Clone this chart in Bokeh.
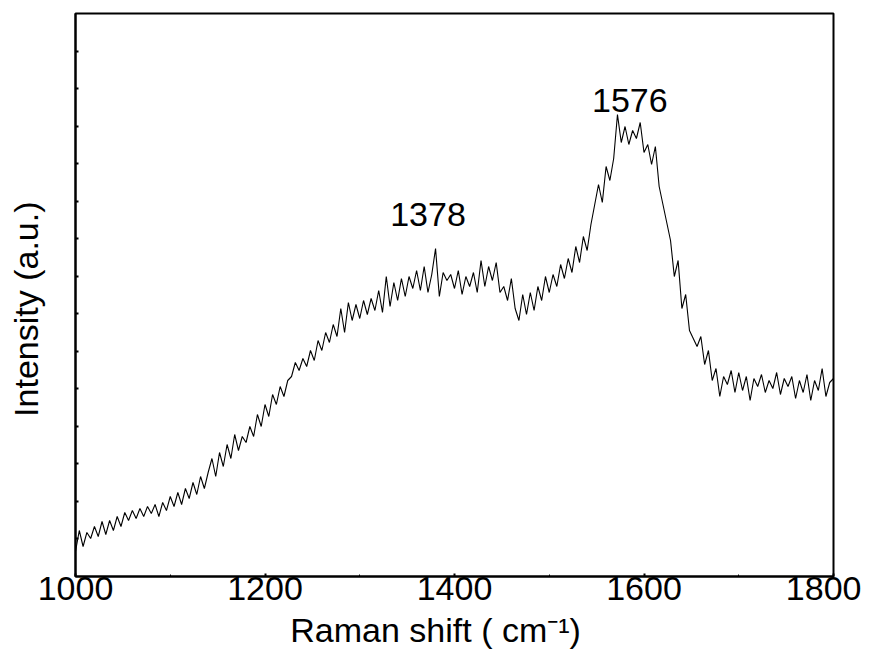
from bokeh.plotting import figure
from bokeh.models import Range1d, FixedTicker, SingleIntervalTicker, CustomJSTickFormatter, ColumnDataSource
from bokeh.core.properties import value
from bokeh.embed import file_html
from bokeh.resources import INLINE

# Raman shift sampling (cm^-1): 1000..1800, every 4 cm^-1
shift_start = 1000
shift_step = 4

# Intensity (a.u.), in order of increasing shift
intensity = [
    25, 46, 30, 44, 38, 50, 40, 55, 42, 56,
    46, 60, 50, 64, 56, 66, 58, 68, 60, 70,
    63, 72, 60, 74, 66, 80, 70, 84, 72, 88,
    78, 94, 82, 100, 88, 104, 118, 100, 124, 110,
    132, 118, 142, 126, 140, 134, 150, 140, 162, 150,
    172, 160, 182, 172, 190, 180, 196, 200, 214, 206,
    218, 210, 226, 216, 236, 226, 244, 234, 252, 240,
    268, 244, 274, 256, 272, 258, 276, 262, 278, 266,
    286, 264, 300, 270, 294, 276, 298, 280, 300, 288,
    306, 286, 310, 284, 302, 328, 280, 304, 296, 302,
    288, 306, 282, 300, 290, 304, 284, 316, 290, 310,
    296, 314, 284, 290, 276, 298, 268, 256, 282, 262,
    284, 266, 290, 276, 300, 284, 302, 290, 312, 298,
    318, 304, 330, 314, 340, 326, 352, 372, 392, 374,
    410, 396, 418, 462, 434, 450, 432, 446, 438, 454,
    424, 432, 412, 430, 390, 372, 354, 336, 300, 316,
    268, 282, 246, 238, 230, 240, 212, 226, 196, 208,
    180, 200, 192, 206, 184, 204, 186, 200, 176, 198,
    190, 202, 184, 196, 188, 204, 182, 198, 190, 200,
    178, 196, 184, 202, 176, 196, 186, 208, 180, 194,
    198,
]
shift = [shift_start + shift_step * i for i in range(len(intensity))]

# Peak annotations
peak_labels = ["1378", "1576"]
peak_x = [1372, 1585]
peak_y = [362, 476]

x_min, x_max = 1000, 1800
y_min, y_max = 0, 563
x_major = 200
n_y_ticks = 15

FONT = "Liberation Sans"
FS = "34px"
NB = "\u00a0"

p = figure(width=861, height=652, output_backend="svg", toolbar_location=None,
           x_range=Range1d(x_min, x_max), y_range=Range1d(y_min, y_max),
           min_border_left=75, min_border_right=28, min_border_top=13, min_border_bottom=76)
p.background_fill_color = "white"
p.border_fill_color = "white"
p.grid.visible = False
p.outline_line_color = "black"
p.outline_line_width = 2
p.outline_line_alpha = 1

src = ColumnDataSource(dict(x=shift, y=intensity))
p.line("x", "y", source=src, line_color="black", line_width=1.1)

tsrc = ColumnDataSource(dict(x=peak_x, y=peak_y, t=peak_labels))
p.text("x", "y", text="t", source=tsrc, text_font=value(FONT), text_font_size=FS,
       text_align="center", text_baseline="alphabetic", text_color="black")

# x axis
xa = p.xaxis[0]
xa.ticker = SingleIntervalTicker(interval=x_major, num_minor_ticks=2)
xa.axis_line_width = 2
xa.major_tick_in = 3
xa.major_tick_out = 0
xa.minor_tick_in = 2
xa.minor_tick_out = 0
xa.major_tick_line_width = 2
xa.major_label_text_font = FONT
xa.major_label_text_font_size = FS
xa.major_label_text_color = "black"
xa.major_label_standoff = 0
xa.axis_label = "Raman shift ( cm\u207b\u00b9)" + NB * 4
xa.axis_label_text_font = FONT
xa.axis_label_text_font_size = FS
xa.axis_label_text_font_style = "normal"
xa.axis_label_text_color = "black"
xa.axis_label_standoff = 8

# y axis
ya = p.yaxis[0]
ya.ticker = FixedTicker(ticks=[(y_max - y_min) * k / n_y_ticks for k in range(1, n_y_ticks)])
ya.formatter = CustomJSTickFormatter(code="return ''")
ya.axis_line_width = 2
ya.major_tick_in = 3
ya.major_tick_out = 0
ya.major_tick_line_width = 2
ya.minor_tick_line_color = None
ya.axis_label = "Intensity (a.u.)" + NB * 3
ya.axis_label_text_font = FONT
ya.axis_label_text_font_size = FS
ya.axis_label_text_font_style = "normal"
ya.axis_label_text_color = "black"
ya.axis_label_standoff = 31

open("out.html", "w").write(file_html(p, INLINE))
